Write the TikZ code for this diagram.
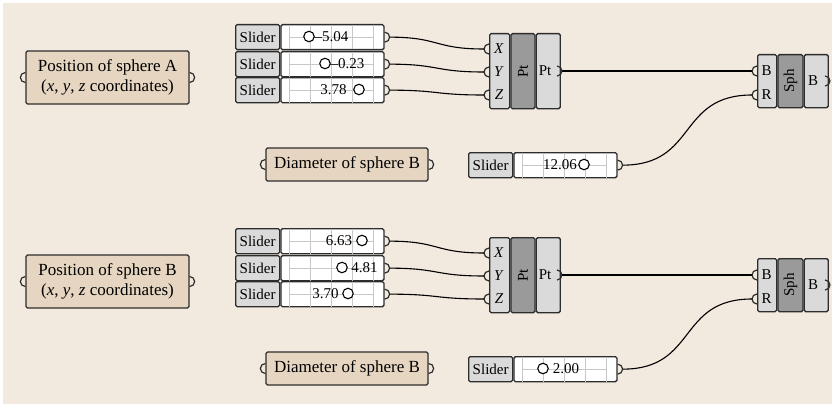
\documentclass[tikz,border=0pt]{standalone}
\usepackage{fontspec}
\setmainfont{Liberation Serif}
\usetikzlibrary{positioning}
\definecolor{canvas}{RGB}{242,233,223}
\definecolor{note}{RGB}{230,214,193}
\definecolor{paneldark}{RGB}{154,154,154}
\definecolor{panellight}{RGB}{218,218,218}
\definecolor{edge}{RGB}{45,45,45}
\definecolor{gridgray}{RGB}{200,200,200}

\tikzset{
  box/.style={draw=edge,line width=1.3pt,rounded corners=1.5pt,inner sep=0pt},
  notebox/.style={box,fill=note,font=\fontsize{17}{20.5}\selectfont,align=center},
  sldlabel/.style={box,fill=panellight,minimum width=44pt,minimum height=25pt,font=\fontsize{15}{18}\selectfont},
  sldvalue/.style={box,fill=white,minimum width=103pt,minimum height=25pt},
  gridline/.style={gridgray,line width=0.9pt},
  knob/.style={circle,draw=black,fill=white,line width=1.1pt,minimum size=10.5pt,inner sep=0pt},
  numtext/.style={font=\fontsize{15}{18}\selectfont,inner sep=0pt},
  port/.style={edge,line width=1.2pt},
  wire/.style={black,line width=1.1pt},
  colin/.style={box,fill=panellight},
  colcore/.style={box,fill=paneldark},
  portlabel/.style={font=\fontsize{15}{18}\selectfont,inner sep=0pt}
}

% port arcs: anchor point, name of the tip
\newcommand{\outport}[2]{%
  \draw[port] (#1) ++(0,5) arc (90:-90:5);
  \path (#1) ++(5,0) coordinate (#2);}
\newcommand{\inport}[2]{%
  \draw[port] (#1) ++(0,5) arc (90:270:5);
  \path (#1) ++(-5,0) coordinate (#2);}

% slider: name, left x, top y, knob x, value, value x
\newcommand{\slider}[6]{%
  \node[sldlabel,anchor=north west] (#1-l) at (#2,#3) {Slider};
  \node[sldvalue,anchor=north west] (#1-v) at (#1-l.north east) {};
  \foreach \d in {9,30,51,72,93}
    \draw[gridline] ([xshift=\d pt,yshift=-0.8pt]#1-v.north west) -- ([xshift=\d pt,yshift=0.8pt]#1-v.south west);
  \draw[gridline] ([xshift=9pt]#1-v.west) -- ([xshift=93pt]#1-v.west);
  \node[knob] (#1-k) at (#4,#3+12.5) {};
  \node[numtext] (#1-n) at (#6,#3+12.5) {#5};
  \outport{#1-v.east}{#1-o}}

\begin{document}
\begin{tikzpicture}[x=1pt,y=-1pt]
    \useasboundingbox (0,0) rectangle (832,404);
    \fill[canvas] (3,3) rectangle (832,404);

    % sphere A
    \node[notebox,minimum width=163pt,minimum height=53pt] (posA) at (107.5,77.5) {Position of sphere A\\(\textit{x}, \textit{y}, \textit{z} coordinates)};
    \inport{posA.west}{posA-i}
    \outport{posA.east}{posA-o}
    \slider{sA1}{235}{24}{309}{--5.04}{331.5}
    \slider{sA2}{235}{51}{325}{--0.23}{347.5}
    \slider{sA3}{235}{77}{359}{3.78}{333.5}

    \node[colin,anchor=north west,minimum width=20pt,minimum height=75pt] (ptA-in) at (489,33) {};
    \node[colcore,anchor=north west,minimum width=24pt,minimum height=75pt] (ptA-core) at (ptA-in.north east) {};
    \node[colin,anchor=north west,minimum width=24pt,minimum height=75pt] (ptA-out) at (ptA-core.north east) {};
    \node[portlabel,rotate=90] (ptA-name) at (ptA-core) {Pt};
    \node[portlabel] (ptA-lx) at (499,49) {\textit{X}};
    \node[portlabel] (ptA-ly) at (499,72) {\textit{Y}};
    \node[portlabel] (ptA-lz) at (499,95) {\textit{Z}};
    \node[portlabel] (ptA-lo) at (545,71) {Pt};
    \inport{489,49}{ptA-x}
    \inport{489,72}{ptA-y}
    \inport{489,95}{ptA-z}
    \outport{557,71}{ptA-o}

    \node[notebox,minimum width=162pt,minimum height=33pt] (diamA) at (347,164.5) {Diameter of sphere B};
    \inport{diamA.west}{diamA-i}
    \outport{diamA.east}{diamA-o}
    \slider{dA}{468}{152}{584}{12.06}{560}

    \node[colin,anchor=north west,minimum width=19pt,minimum height=53pt] (sphA-in) at (757,54) {};
    \node[colcore,anchor=north west,minimum width=25pt,minimum height=53pt] (sphA-core) at (sphA-in.north east) {};
    \node[colin,anchor=north west,minimum width=24pt,minimum height=53pt] (sphA-out) at (sphA-core.north east) {};
    \node[portlabel,rotate=90] (sphA-name) at (sphA-core) {Sph};
    \node[portlabel] (sphA-lb) at (766.5,71) {B};
    \node[portlabel] (sphA-lr) at (766.5,95) {R};
    \node[portlabel] (sphA-lo) at (813,81) {B};
    \inport{757,71}{sphA-b}
    \inport{757,95}{sphA-r}
    \outport{825,81}{sphA-o}

    \draw[wire] (sA1-o) .. controls +(50,0) and +(-50,0) .. (ptA-x);
    \draw[wire] (sA2-o) .. controls +(50,0) and +(-50,0) .. (ptA-y);
    \draw[wire] (sA3-o) .. controls +(50,0) and +(-50,0) .. (ptA-z);
    \draw[wire] (ptA-o) -- (sphA-b);
    \draw[wire] (dA-o) .. controls +(75,0) and +(-75,0) .. (sphA-r);

    % sphere B
    \node[notebox,minimum width=163pt,minimum height=53pt] (posB) at (107.5,281.5) {Position of sphere B\\(\textit{x}, \textit{y}, \textit{z} coordinates)};
    \inport{posB.west}{posB-i}
    \outport{posB.east}{posB-o}
    \slider{sB1}{235}{228}{362}{6.63}{339}
    \slider{sB2}{235}{255}{342}{4.81}{364.5}
    \slider{sB3}{235}{281}{348}{3.70}{325.5}

    \node[colin,anchor=north west,minimum width=20pt,minimum height=75pt] (ptB-in) at (489,237) {};
    \node[colcore,anchor=north west,minimum width=24pt,minimum height=75pt] (ptB-core) at (ptB-in.north east) {};
    \node[colin,anchor=north west,minimum width=24pt,minimum height=75pt] (ptB-out) at (ptB-core.north east) {};
    \node[portlabel,rotate=90] (ptB-name) at (ptB-core) {Pt};
    \node[portlabel] (ptB-lx) at (499,253) {\textit{X}};
    \node[portlabel] (ptB-ly) at (499,276) {\textit{Y}};
    \node[portlabel] (ptB-lz) at (499,299) {\textit{Z}};
    \node[portlabel] (ptB-lo) at (545,275) {Pt};
    \inport{489,253}{ptB-x}
    \inport{489,276}{ptB-y}
    \inport{489,299}{ptB-z}
    \outport{557,275}{ptB-o}

    \node[notebox,minimum width=162pt,minimum height=33pt] (diamB) at (347,368.5) {Diameter of sphere B};
    \inport{diamB.west}{diamB-i}
    \outport{diamB.east}{diamB-o}
    \slider{dB}{468}{356}{543}{2.00}{566}

    \node[colin,anchor=north west,minimum width=19pt,minimum height=53pt] (sphB-in) at (757,258) {};
    \node[colcore,anchor=north west,minimum width=25pt,minimum height=53pt] (sphB-core) at (sphB-in.north east) {};
    \node[colin,anchor=north west,minimum width=24pt,minimum height=53pt] (sphB-out) at (sphB-core.north east) {};
    \node[portlabel,rotate=90] (sphB-name) at (sphB-core) {Sph};
    \node[portlabel] (sphB-lb) at (766.5,275) {B};
    \node[portlabel] (sphB-lr) at (766.5,299) {R};
    \node[portlabel] (sphB-lo) at (813,285) {B};
    \inport{757,275}{sphB-b}
    \inport{757,299}{sphB-r}
    \outport{825,285}{sphB-o}

    \draw[wire] (sB1-o) .. controls +(50,0) and +(-50,0) .. (ptB-x);
    \draw[wire] (sB2-o) .. controls +(50,0) and +(-50,0) .. (ptB-y);
    \draw[wire] (sB3-o) .. controls +(50,0) and +(-50,0) .. (ptB-z);
    \draw[wire] (ptB-o) -- (sphB-b);
    \draw[wire] (dB-o) .. controls +(75,0) and +(-75,0) .. (sphB-r);
\end{tikzpicture}
\end{document}
